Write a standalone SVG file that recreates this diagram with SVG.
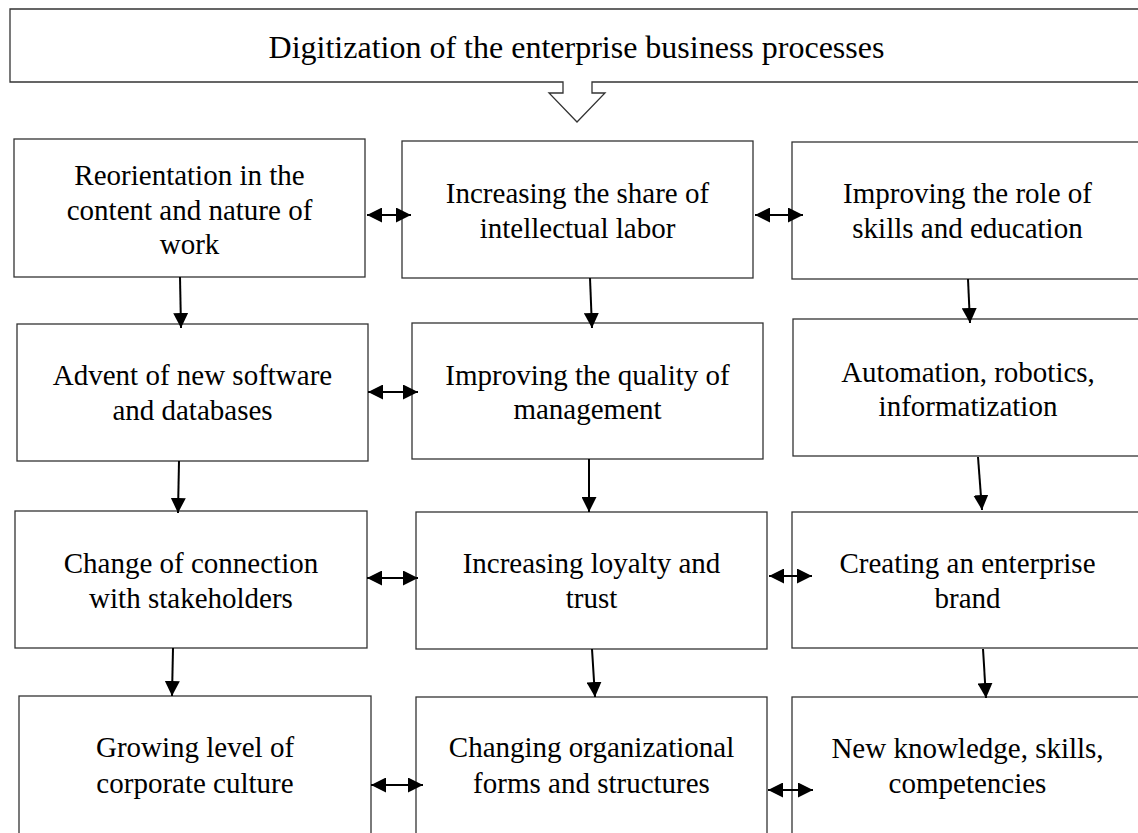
<svg xmlns="http://www.w3.org/2000/svg" width="1138" height="833" viewBox="0 0 1138 833">
<style>
.box{fill:#fff;stroke:#333;stroke-width:1.3}
.t{font-family:'Liberation Serif','Tinos','DejaVu Serif',serif;font-size:29px;fill:#000;text-anchor:middle}
.title{font-size:32px}
.c{stroke:#000;stroke-width:2;fill:none}
.d{marker-start:url(#ah);marker-end:url(#ah)}
.s{marker-end:url(#ah)}
</style>
<defs>
<marker id="ah" markerUnits="userSpaceOnUse" markerWidth="15" markerHeight="15" viewBox="0 0 15 15" refX="15" refY="7.5" orient="auto-start-reverse">
<path d="M0,0 L15,7.5 L0,15 Z" fill="#000"/>
</marker>
</defs>
<rect width="1138" height="833" fill="#fff"/>
<g id="title">
<path class="box" d="M1145,9 H10 V82 H563 V93 H549 L577,122 L605,93 H592 V82 H1145"/>
<text class="t title" x="576.5" y="58">Digitization of the enterprise business processes</text>
</g>
<g id="n1"><rect class="box" x="14" y="139" width="351" height="138"/>
<text class="t" x="189.5" y="185">Reorientation in the</text><text class="t" x="189.5" y="219.5">content and nature of</text><text class="t" x="189.5" y="254">work</text></g>
<g id="n2"><rect class="box" x="402" y="141" width="351" height="137"/>
<text class="t" x="577.5" y="203">Increasing the share of</text><text class="t" x="577.5" y="237.5">intellectual labor</text></g>
<g id="n3"><rect class="box" x="792" y="142" width="352" height="137"/>
<text class="t" x="967.5" y="203">Improving the role of</text><text class="t" x="967.5" y="238">skills and education</text></g>
<g id="n4"><rect class="box" x="17" y="324" width="351" height="137"/>
<text class="t" x="192.5" y="385">Advent of new software</text><text class="t" x="192.5" y="420">and databases</text></g>
<g id="n5"><rect class="box" x="412" y="323" width="351" height="136"/>
<text class="t" x="587.5" y="385">Improving the quality of</text><text class="t" x="587.5" y="419">management</text></g>
<g id="n6"><rect class="box" x="793" y="319" width="352" height="137"/>
<text class="t" x="968" y="382">Automation, robotics,</text><text class="t" x="968" y="416">informatization</text></g>
<g id="n7"><rect class="box" x="15" y="511" width="352" height="137"/>
<text class="t" x="191" y="573">Change of connection</text><text class="t" x="191" y="608">with stakeholders</text></g>
<g id="n8"><rect class="box" x="416" y="512" width="351" height="137"/>
<text class="t" x="591.5" y="573">Increasing loyalty and</text><text class="t" x="591.5" y="608">trust</text></g>
<g id="n9"><rect class="box" x="792" y="512" width="352" height="136"/>
<text class="t" x="967.5" y="573">Creating an enterprise</text><text class="t" x="967.5" y="608">brand</text></g>
<g id="n10"><rect class="box" x="19" y="696" width="352" height="150"/>
<text class="t" x="195" y="757">Growing level of</text><text class="t" x="195" y="793">corporate culture</text></g>
<g id="n11"><rect class="box" x="416" y="697" width="351" height="150"/>
<text class="t" x="591.5" y="757">Changing organizational</text><text class="t" x="591.5" y="793">forms and structures</text></g>
<g id="n12"><rect class="box" x="792" y="697" width="352" height="150"/>
<text class="t" x="967.5" y="758">New knowledge, skills,</text><text class="t" x="967.5" y="793">competencies</text></g>
<g id="connectors">
<line class="c d" x1="367" y1="215" x2="411" y2="215"/>
<line class="c d" x1="755" y1="215" x2="803" y2="215"/>
<line class="c d" x1="368" y1="392" x2="418" y2="392"/>
<line class="c d" x1="367" y1="578" x2="418" y2="578"/>
<line class="c d" x1="769" y1="576" x2="812" y2="576"/>
<line class="c d" x1="371" y1="785" x2="423" y2="785"/>
<line class="c d" x1="768" y1="790" x2="813" y2="790"/>
<line class="c s" x1="180" y1="277" x2="181" y2="328"/>
<line class="c s" x1="590" y1="278" x2="592" y2="328"/>
<line class="c s" x1="968" y1="279" x2="970" y2="323"/>
<line class="c s" x1="179" y1="461" x2="178" y2="513"/>
<line class="c s" x1="589" y1="459" x2="589" y2="512"/>
<line class="c s" x1="978" y1="457" x2="982" y2="510"/>
<line class="c s" x1="173" y1="648" x2="172" y2="696"/>
<line class="c s" x1="592" y1="649" x2="595" y2="697"/>
<line class="c s" x1="983" y1="649" x2="986" y2="698"/>
</g>
</svg>
